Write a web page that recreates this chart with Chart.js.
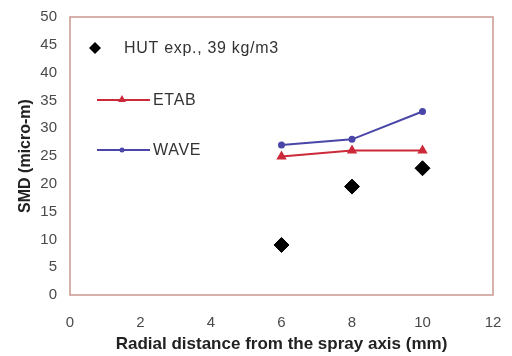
<!DOCTYPE html>
<html>
<head>
<meta charset="utf-8">
<script src="https://cdn.jsdelivr.net/npm/chart.js@4/dist/chart.umd.min.js"></script>
<style>
  html, body { margin: 0; padding: 0; background: #fff; }
  #wrap { width: 512px; height: 356px; position: relative; }
</style>
</head>
<body>
<div id="wrap"><canvas id="myChart" width="512" height="356"></canvas></div>
<script>
// chart data
const xPositions = [6, 8, 10];
const hutValues = [9, 19.5, 22.8];
const etabValues = [24.9, 26, 26];
const waveValues = [27, 28, 33];
const xTicks = [0, 2, 4, 6, 8, 10, 12];
const yTicks = [0, 5, 10, 15, 20, 25, 30, 35, 40, 45, 50];

const seriesNames = ['HUT exp., 39 kg/m3', 'ETAB', 'WAVE'];
const borderColor = '#c9968e';
const etabColor = '#cc2a3a';
const waveColor = '#4a46a8';
const fontName = '"Liberation Sans", Arial, sans-serif';

function toPoints(values) {
    return xPositions.map((x, i) => ({ x: x, y: values[i] }));
}

// draws the frame round the plot and the legend inside it
const framePlugin = {
    id: 'frame',
    afterDatasetsDraw(chart) {
        const ctx = chart.ctx;
        const a = chart.chartArea;
        ctx.save();
        ctx.strokeStyle = borderColor;
        ctx.lineWidth = 1.5;
        ctx.strokeRect(a.left, a.top, a.right - a.left, a.bottom - a.top);

        ctx.font = '16px ' + fontName;
        ctx.letterSpacing = '0.7px';
        ctx.textBaseline = 'middle';

        // HUT diamond
        ctx.fillStyle = '#000';
        ctx.beginPath();
        ctx.moveTo(95, 42); ctx.lineTo(101, 48); ctx.lineTo(95, 54); ctx.lineTo(89, 48);
        ctx.closePath();
        ctx.fill();
        ctx.fillStyle = '#333';
        ctx.fillText(seriesNames[0], 124, 49);

        // ETAB line
        ctx.strokeStyle = etabColor;
        ctx.lineWidth = 2;
        ctx.beginPath(); ctx.moveTo(97, 100); ctx.lineTo(150, 100); ctx.stroke();
        ctx.fillStyle = etabColor;
        ctx.beginPath();
        ctx.moveTo(122, 95); ctx.lineTo(126, 102); ctx.lineTo(118, 102);
        ctx.closePath(); ctx.fill();
        ctx.fillStyle = '#333';
        ctx.fillText(seriesNames[1], 153, 101);

        // WAVE line
        ctx.strokeStyle = waveColor;
        ctx.beginPath(); ctx.moveTo(97, 150); ctx.lineTo(150, 150); ctx.stroke();
        ctx.fillStyle = waveColor;
        ctx.beginPath(); ctx.arc(122, 150, 2.5, 0, Math.PI * 2); ctx.fill();
        ctx.fillStyle = '#333';
        ctx.fillText(seriesNames[2], 153, 151);
        ctx.restore();
    }
};

const ctx = document.getElementById('myChart').getContext('2d');
const myChart = new Chart(ctx, {
    type: 'scatter',
    data: {
        datasets: [
            {
                label: seriesNames[2],
                data: toPoints(waveValues),
                showLine: true,
                borderColor: waveColor,
                backgroundColor: waveColor,
                borderWidth: 2,
                pointRadius: 2.5,
                pointStyle: 'circle'
            },
            {
                label: seriesNames[1],
                data: toPoints(etabValues),
                showLine: true,
                borderColor: etabColor,
                backgroundColor: etabColor,
                borderWidth: 2,
                pointRadius: 4,
                pointStyle: 'triangle'
            },
            {
                label: seriesNames[0],
                data: toPoints(hutValues),
                showLine: false,
                borderColor: '#000',
                backgroundColor: '#000',
                pointRadius: 7.5,
                pointStyle: 'rectRot'
            }
        ]
    },
    options: {
        responsive: false,
        animation: false,
        layout: { padding: { top: 17, right: 19, left: 0, bottom: 0 } },
        plugins: { legend: { display: false }, tooltip: { enabled: false } },
        scales: {
            x: {
                type: 'linear',
                min: 0,
                max: 12,
                afterBuildTicks: scale => { scale.ticks = xTicks.map(v => ({ value: v })); },
                afterFit: scale => {
                    scale.height = 61;
                    scale.paddingLeft = 0;
                    scale.paddingRight = 0;
                },
                grid: { display: false, drawTicks: false },
                border: { display: false },
                ticks: {
                    autoSkip: false,
                    maxRotation: 0,
                    color: '#4a4a4a',
                    padding: 19,
                    font: { family: fontName, size: 15 }
                },
                title: {
                    display: true,
                    text: 'Radial distance from the spray axis (mm)',
                    color: '#222',
                    padding: { top: 0, bottom: 1 },
                    font: { family: fontName, size: 17, weight: 'bold' }
                }
            },
            y: {
                min: 0,
                max: 50,
                afterBuildTicks: scale => { scale.ticks = yTicks.map(v => ({ value: v })); },
                afterFit: scale => {
                    scale.width = 70;
                    scale.paddingTop = 0;
                    scale.paddingBottom = 0;
                },
                grid: { display: false, drawTicks: false },
                border: { display: false },
                ticks: {
                    autoSkip: false,
                    color: '#4a4a4a',
                    padding: 13,
                    font: { family: fontName, size: 15 }
                },
                title: {
                    display: true,
                    text: 'SMD (micro-m)',
                    color: '#222',
                    padding: { top: 16, bottom: 0 },
                    font: { family: fontName, size: 16, weight: 'bold' }
                }
            }
        }
    },
    plugins: [framePlugin]
});
</script>
</body>
</html>
